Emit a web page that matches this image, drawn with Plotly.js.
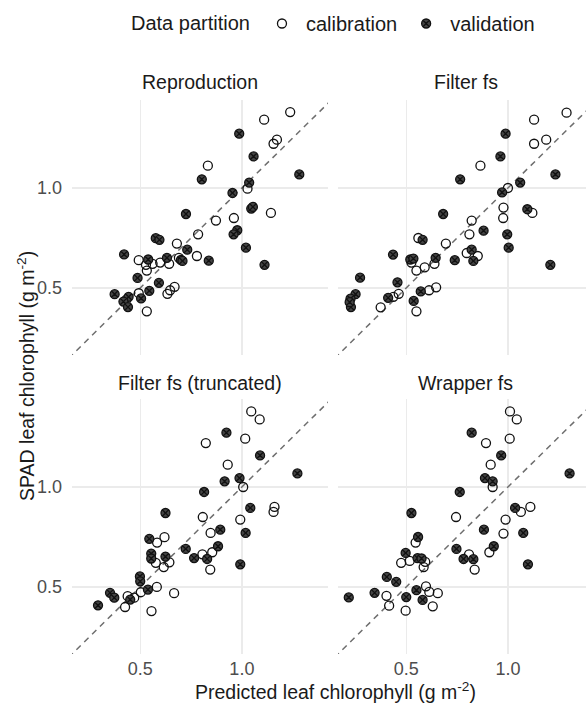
<!DOCTYPE html>
<html>
<head>
<meta charset="utf-8">
<script src="https://cdn.plot.ly/plotly-3.0.1.min.js"></script>
<style>html,body{margin:0;padding:0;background:#fff;}#chart{width:586px;height:706px;}</style>
</head>
<body>
<div id="chart"></div>
<script>
// ---- data ----
const panelTitles = ['Reproduction', 'Filter fs', 'Filter fs (truncated)', 'Wrapper fs'];
const legendTitle = 'Data partition';
const groupNames = ['calibration', 'validation'];
const tickVals = [0.5, 1.0];
const tickText = ['0.5', '1.0'];
const oneToOne = [0.2, 2.5];

const repCalX = [1.390,1.164,1.270,1.241,0.793,1.039,1.219,0.838,0.947,0.742,0.642,0.736,0.495,0.520,0.523,0.544,0.573,0.609,0.651,0.632,0.613,0.602,0.495,0.455,0.523];
const repCalY = [1.693,1.606,1.398,1.359,1.167,0.995,0.841,0.798,0.812,0.725,0.680,0.624,0.606,0.587,0.564,0.591,0.596,0.591,0.616,0.504,0.492,0.480,0.482,0.461,0.425];
const repValX = [0.982,1.083,0.761,1.479,1.051,0.938,1.066,1.078,0.683,0.969,0.945,0.556,0.570,1.028,0.689,0.448,0.528,0.600,0.660,0.667,0.798,1.167,0.491,0.568,0.532,0.503,0.420,0.462,0.446,0.460];
const repValY = [1.457,1.245,1.062,1.099,1.038,0.966,0.867,0.877,0.835,0.746,0.725,0.706,0.698,0.661,0.652,0.631,0.609,0.616,0.607,0.603,0.604,0.587,0.536,0.518,0.490,0.465,0.479,0.470,0.455,0.438];

const filCalX = [1.491,1.195,1.298,1.195,0.829,1.000,0.970,0.968,1.181,0.781,0.769,0.543,0.655,0.755,0.814,0.518,0.536,0.567,0.606,0.613,0.584,0.475,0.458,0.420,0.536];
const filCalY = [1.686,1.606,1.398,1.359,1.167,1.000,0.873,0.812,0.841,0.798,0.725,0.707,0.680,0.637,0.624,0.596,0.564,0.577,0.591,0.502,0.492,0.480,0.470,0.437,0.425];
const filValX = [0.984,0.950,1.382,0.722,1.087,0.961,1.141,0.643,0.847,0.995,0.559,1.005,0.781,0.790,0.457,0.514,0.525,0.611,0.696,1.335,0.365,0.471,0.552,0.442,0.526,0.354,0.342,0.343,0.340];
const filValY = [1.457,1.245,1.099,1.062,1.038,0.970,0.863,0.835,0.744,0.725,0.698,0.661,0.652,0.603,0.630,0.609,0.613,0.616,0.606,0.587,0.537,0.520,0.488,0.467,0.457,0.479,0.464,0.438,0.453];

const truCalX = [1.066,1.129,0.782,1.023,0.908,1.009,0.766,1.249,1.241,0.989,0.808,0.561,0.590,0.817,0.764,0.806,0.556,0.610,0.587,0.560,0.502,0.630,0.459,0.480,0.451,0.540];
const truCalY = [1.689,1.598,1.356,1.398,1.167,1.000,0.812,0.871,0.841,0.798,0.727,0.680,0.706,0.636,0.627,0.564,0.591,0.593,0.574,0.500,0.482,0.479,0.469,0.464,0.435,0.423];
const truValX = [0.900,1.132,1.460,0.889,0.984,0.773,0.594,1.059,0.863,1.026,0.532,0.682,0.850,0.722,0.789,0.989,0.539,0.539,0.594,0.499,0.500,0.527,0.407,0.419,0.467,0.375];
const truValY = [1.457,1.245,1.099,1.040,1.064,0.966,0.835,0.865,0.744,0.727,0.698,0.651,0.663,0.611,0.607,0.585,0.630,0.609,0.617,0.538,0.520,0.491,0.480,0.464,0.458,0.440];

const wrpCalX = [1.014,1.062,0.861,1.012,0.889,0.901,0.702,1.165,1.092,0.984,0.970,0.533,0.881,0.767,0.797,0.483,0.512,0.569,0.563,0.572,0.585,0.620,0.437,0.445,0.599,0.498];
const wrpCalY = [1.689,1.598,1.356,1.398,1.167,1.000,0.812,0.871,0.841,0.798,0.724,0.680,0.636,0.627,0.564,0.591,0.599,0.595,0.574,0.502,0.483,0.479,0.470,0.439,0.437,0.424];
const wrpValX = [0.781,0.955,1.522,0.855,0.901,0.720,0.518,1.050,0.849,1.110,0.542,0.704,0.908,0.739,0.790,1.146,0.498,0.540,0.555,0.438,0.467,0.536,0.403,0.500,0.559,0.338];
const wrpValY = [1.457,1.245,1.099,1.064,1.040,0.966,0.835,0.865,0.744,0.727,0.707,0.651,0.663,0.607,0.606,0.585,0.633,0.611,0.609,0.536,0.518,0.489,0.480,0.466,0.457,0.465];

const panelData = [
  [repCalX, repCalY, repValX, repValY],
  [filCalX, filCalY, filValX, filValY],
  [truCalX, truCalY, truValX, truValY],
  [wrpCalX, wrpCalY, wrpValX, wrpValY]
];

// ---- styling ----
const W = 586, H = 706;
const FONT = 'Liberation Sans, Arial, sans-serif';
const TXT = '#1a1a1a';
const TICK = '#4d4d4d';
const GRID = '#ebebeb';

const traces = [];
panelData.forEach((d, i) => {
  const ax = i === 0 ? '' : String(i + 1);
  traces.push({
    x: oneToOne, y: oneToOne, xaxis: 'x' + ax, yaxis: 'y' + ax,
    mode: 'lines', line: {color: '#6e6e6e', width: 1.5, dash: '6px,5px'},
    showlegend: false, hoverinfo: 'skip'
  });
  traces.push({
    x: d[0], y: d[1], xaxis: 'x' + ax, yaxis: 'y' + ax,
    type: 'scatter', mode: 'markers', name: groupNames[0], legendgroup: 'cal',
    showlegend: i === 0,
    marker: {symbol: 'circle-open', size: 9, color: '#111111', line: {width: 1.3, color: '#111111'}}
  });
  traces.push({
    x: d[2], y: d[3], xaxis: 'x' + ax, yaxis: 'y' + ax,
    type: 'scatter', mode: 'markers', name: groupNames[1], legendgroup: 'val',
    showlegend: i === 0,
    marker: {symbol: 'circle-x', size: 9, color: '#444444', line: {width: 1.3, color: '#111111'}}
  });
});

const xRangeL = [-0.503, 0.255];
const xRangeR = [-0.503, 0.231];
const yRange = [-0.503, 0.265];

function xa(domain, range, anchor, labels) {
  return {
    type: 'log', domain: domain, range: range, anchor: anchor,
    tickvals: tickVals, ticktext: tickText, showticklabels: labels,
    ticks: '', showgrid: true, gridcolor: GRID, gridwidth: 1.4,
    zeroline: false, showline: false, ticklabelstandoff: 2,
    tickfont: {family: FONT, size: 18, color: TICK}
  };
}
function ya(domain, anchor, labels) {
  return {
    type: 'log', domain: domain, range: yRange, anchor: anchor,
    tickvals: tickVals, ticktext: tickText, showticklabels: labels,
    ticks: '', showgrid: true, gridcolor: GRID, gridwidth: 1.4,
    zeroline: false, showline: false, ticklabelstandoff: 9,
    tickfont: {family: FONT, size: 18, color: TICK}
  };
}

const dxL = [72 / W, 328 / W];
const dxR = [338 / W, 1];
const dyT = [1 - 355 / H, 1 - 100 / H];
const dyB = [1 - 654 / H, 1 - 399 / H];

const ann = [];
const titlePos = [[200, 82], [466, 82], [200, 383], [466, 383]];
panelTitles.forEach((t, i) => {
  ann.push({text: t, xref: 'paper', yref: 'paper', x: titlePos[i][0] / W, y: 1 - titlePos[i][1] / H,
    xanchor: 'center', yanchor: 'middle', showarrow: false, font: {family: FONT, size: 19.5, color: TXT}});
});
ann.push({text: 'Predicted leaf chlorophyll (g m<sup>-2</sup>)', xref: 'paper', yref: 'paper',
  x: 335 / W, y: 1 - 691 / H, xanchor: 'center', yanchor: 'middle', showarrow: false,
  font: {family: FONT, size: 19.5, color: TXT}});
ann.push({text: 'SPAD leaf chlorophyll (g m<sup>-2</sup>)', xref: 'paper', yref: 'paper',
  x: 26 / W, y: 1 - 376 / H, xanchor: 'center', yanchor: 'middle', textangle: -90, showarrow: false,
  font: {family: FONT, size: 19.5, color: TXT}});

const layout = {
  width: W, height: H,
  margin: {l: 0, r: 0, t: 0, b: 0},
  paper_bgcolor: '#ffffff', plot_bgcolor: '#ffffff',
  font: {family: FONT, color: TXT},
  showlegend: true,
  legend: {
    orientation: 'h', x: 129 / W, xanchor: 'left', y: 1 - 4 / H, yanchor: 'top',
    itemwidth: 38,
    title: {text: legendTitle, side: 'left', font: {family: FONT, size: 20, color: TXT}},
    font: {family: FONT, size: 20, color: TXT}, bgcolor: 'rgba(0,0,0,0)'
  },
  xaxis: xa(dxL, xRangeL, 'y', false),
  yaxis: ya(dyT, 'x', true),
  xaxis2: xa(dxR, xRangeR, 'y2', false),
  yaxis2: ya(dyT, 'x2', false),
  xaxis3: xa(dxL, xRangeL, 'y3', true),
  yaxis3: ya(dyB, 'x3', true),
  xaxis4: xa(dxR, xRangeR, 'y4', true),
  yaxis4: ya(dyB, 'x4', false),
  annotations: ann
};

Plotly.newPlot('chart', traces, layout, {displayModeBar: false, staticPlot: true});
</script>
</body>
</html>
